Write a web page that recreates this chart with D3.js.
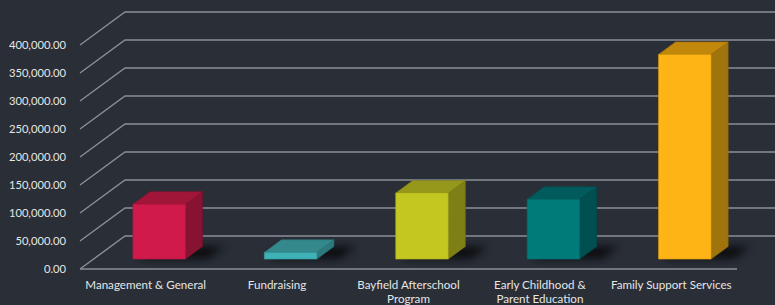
<!DOCTYPE html>
<html><head><meta charset="utf-8">
<script src="https://cdn.jsdelivr.net/npm/d3@7/dist/d3.min.js"></script>
<style>
html,body{margin:0;padding:0;background:#292e37;}
svg{display:block;}
</style></head>
<body>
<svg id="chart" width="775" height="305"></svg>
<script>
const categories = ["Management & General", "Fundraising", "Bayfield Afterschool Program", "Early Childhood & Parent Education", "Family Support Services"];
const labelLines = [["Management & General"], ["Fundraising"], ["Bayfield Afterschool", "Program"], ["Early Childhood &", "Parent Education"], ["Family Support Services"]];
const values = [98000, 12000, 118000, 107000, 365500];
const tickValues = [0, 50000, 100000, 150000, 200000, 250000, 300000, 350000, 400000];
const frontColors = ["#cf1a4b", "#3fb2b8", "#c4c71f", "#017a7a", "#fdb414"];
const topColors   = ["#a11539", "#34898c", "#96981b", "#015a5b", "#c1880b"];
const sideColors  = ["#871231", "#2c7a7e", "#7e8016", "#014f51", "#a0740c"];

const svg = d3.select("#chart");
const DX = 45, DY = -33;           // full depth offset
const d0 = 0.3, d1 = 0.68;          // bar depth range
const x = d3.scaleBand().domain(categories).range([80, 737]).paddingInner(0.6).paddingOuter(0.3);
const y = d3.scaleLinear().domain([0, 400000]).range([269, 45]);

const defs = svg.append("defs");
defs.append("filter").attr("id","blur").attr("x","-50%").attr("y","-50%").attr("width","200%").attr("height","200%")
  .append("feGaussianBlur").attr("stdDeviation", 4);

// gridlines
const grid = svg.append("g").attr("stroke", "#8b8f96").attr("stroke-width", 1.4).attr("fill", "none");
tickValues.forEach(t => {
  const fy = y(t);
  grid.append("path").attr("d", `M${x.range()[0]},${fy}L${x.range()[0]+DX},${fy+DY}L${800},${fy+DY}`);
});
grid.append("line").attr("x1", x.range()[0]).attr("x2", x.range()[1]).attr("y1", y(0)).attr("y2", y(0));

// tick labels
svg.append("g").selectAll("text").data(tickValues).join("text")
  .attr("x", 66).attr("y", d => y(d)).attr("dy", "0.35em").attr("text-anchor", "end")
  .attr("fill", "#e6e6e6").attr("font-family", "Lato, 'Open Sans', sans-serif").attr("font-size", 11.2)
  .text(d3.format(",.2f"));

// shadows
const pt = (px, py, d) => [px + d*DX, py + d*DY];
const shadows = svg.append("g");
categories.forEach((c, i) => {
  const x0 = x(c), x1 = x(c) + x.bandwidth();
  const b = y(0);
  const p = [pt(x0+4, b, d0+0.02), pt(x1+22, b, d0+0.02), pt(x1+22, b, d1), pt(x0+4, b, d1)];
  shadows.append("polygon").attr("points", p.map(q => q.join(",")).join(" "))
    .attr("fill", "#000").attr("opacity", 0.75).attr("filter", "url(#blur)");
});

// bars
const bars = svg.append("g");
categories.forEach((c, i) => {
  const x0 = x(c), x1 = x(c) + x.bandwidth();
  const b = y(0), t = y(values[i]);
  const g = bars.append("g").attr("stroke-width", 0.6).attr("stroke-linejoin", "round");
  const A = pt(x0, t, d0), B = pt(x1, t, d0), C = pt(x1, b, d0), D = pt(x0, b, d0);
  const Bb = pt(x1, t, d1), Cb = pt(x1, b, d1), Ab = pt(x0, t, d1);
  const poly = arr => arr.map(q => q.join(",")).join(" ");
  g.append("polygon").attr("points", poly([B, Bb, Cb, C])).attr("fill", sideColors[i]).attr("stroke", d3.color(sideColors[i]).darker(0.4));
  g.append("polygon").attr("points", poly([A, Ab, Bb, B])).attr("fill", topColors[i]).attr("stroke", d3.color(topColors[i]).darker(0.4));
  g.append("polygon").attr("points", poly([A, B, C, D])).attr("fill", frontColors[i]).attr("stroke", d3.color(frontColors[i]).darker(0.4));
});

// category labels
const lab = svg.append("g").attr("fill", "#e6e6e6").attr("font-family", "Lato, 'Open Sans', sans-serif").attr("font-size", 11.6).attr("text-anchor", "middle");
categories.forEach((c, i) => {
  const cx = x(c) + x.bandwidth()/2;
  const tx = lab.append("text").attr("x", cx).attr("y", 289);
  labelLines[i].forEach((ln, j) => tx.append("tspan").attr("x", cx).attr("dy", j ? 14 : 0).text(ln));
});
</script>
</body></html>
